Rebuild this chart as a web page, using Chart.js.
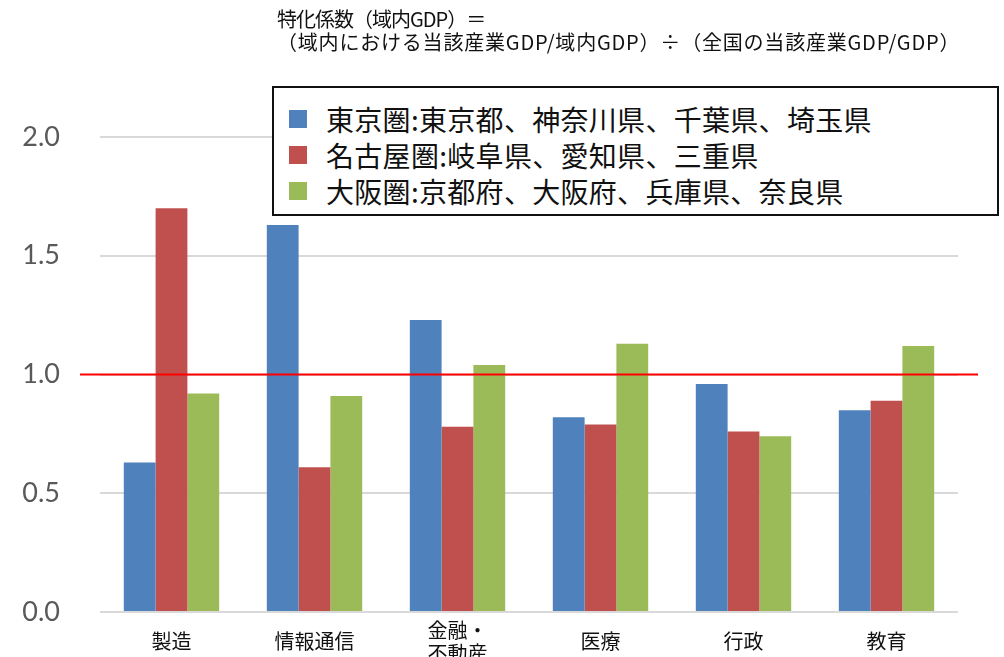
<!DOCTYPE html>
<html lang="ja">
<head>
<meta charset="utf-8">
<script src="https://cdn.jsdelivr.net/npm/chart.js@4.4.1/dist/chart.umd.min.js"></script>
<style>
  html, body { margin: 0; padding: 0; background: #fff; }
  #wrap { position: relative; width: 1004px; height: 657px; overflow: hidden; }
  #chart { position: absolute; left: 0; top: 0; }
  #heading { position: absolute; left: 277px; top: 7px; font-family: "Noto Sans CJK JP", sans-serif; font-size: 20px; line-height: 23px; color: #111; white-space: nowrap; }
  #heading .l0 { letter-spacing: -1px; }
  #heading .l1 { letter-spacing: 0.8px; }
  #legend { position: absolute; left: 272px; top: 86px; width: 723px; height: 126px; border: 2px solid #111; background: #fff; box-sizing: content-box; }
  .item { position: absolute; left: 15px; height: 36px; display: flex; align-items: center; font-family: "Noto Sans CJK JP", sans-serif; font-size: 28px; color: #111; white-space: nowrap; letter-spacing: 0.3px; }
  .sw { width: 18px; height: 18px; margin-right: 19px; }
</style>
</head>
<body>
<div id="wrap">
  <canvas id="chart" width="1004" height="657"></canvas>
  <div id="heading"></div>
  <div id="legend"></div>
</div>
<script>
const headingLines = ['特化係数（域内GDP）＝', '（域内における当該産業GDP/域内GDP）÷（全国の当該産業GDP/GDP）'];
const categories = ['製造', '情報通信', ['金融・', '不動産'], '医療', '行政', '教育'];
const seriesNames = ['東京圏:東京都、神奈川県、千葉県、埼玉県', '名古屋圏:岐阜県、愛知県、三重県', '大阪圏:京都府、大阪府、兵庫県、奈良県'];
const tokyo = [0.63, 1.63, 1.23, 0.82, 0.96, 0.85];
const nagoya = [1.70, 0.61, 0.78, 0.79, 0.76, 0.89];
const osaka = [0.92, 0.91, 1.04, 1.13, 0.74, 1.12];
const seriesColors = ['#4F81BD', '#C0504D', '#9BBB59'];
const yTicks = [0.0, 0.5, 1.0, 1.5, 2.0];
const referenceValue = 1.0;

document.getElementById('heading').innerHTML = headingLines.map((s, i) => '<div class="l' + i + '">' + s + '</div>').join('');
const legendEl = document.getElementById('legend');
seriesNames.forEach((name, i) => {
  const d = document.createElement('div');
  d.className = 'item';
  d.style.top = (13 + i * 36) + 'px';
  d.innerHTML = '<span class="sw" style="background:' + seriesColors[i] + '"></span><span>' + name + '</span>';
  legendEl.appendChild(d);
});

const refLine = {
  id: 'refLine',
  afterDatasetsDraw(chart) {
    const { ctx, chartArea, scales } = chart;
    const y = scales.y.getPixelForValue(referenceValue);
    ctx.save();
    ctx.strokeStyle = '#FF0000';
    ctx.lineWidth = 2;
    ctx.beginPath();
    ctx.moveTo(chartArea.left - 20, y);
    ctx.lineTo(chartArea.right + 20, y);
    ctx.stroke();
    ctx.restore();
  }
};

new Chart(document.getElementById('chart'), {
  type: 'bar',
  data: {
    labels: categories,
    datasets: [
      { label: seriesNames[0], data: tokyo, backgroundColor: seriesColors[0] },
      { label: seriesNames[1], data: nagoya, backgroundColor: seriesColors[1] },
      { label: seriesNames[2], data: osaka, backgroundColor: seriesColors[2] }
    ]
  },
  options: {
    responsive: false,
    animation: false,
    events: [],
    layout: { padding: { top: 137, right: 46, left: 0, bottom: 0 } },
    datasets: { bar: { categoryPercentage: 0.667, barPercentage: 1.0 } },
    plugins: { legend: { display: false }, tooltip: { enabled: false }, title: { display: false } },
    scales: {
      x: {
        grid: { display: false },
        border: { display: false },
        ticks: {
          color: '#111',
          font: { family: '"Noto Sans CJK JP", sans-serif', size: 20, lineHeight: 1.15 },
          padding: 10,
          crossAlign: 'center',
          maxRotation: 0,
          autoSkip: false
        },
        afterFit(scale) { scale.height = 45; }
      },
      y: {
        min: 0,
        max: 2.0,
        afterBuildTicks(scale) { scale.ticks = yTicks.map(v => ({ value: v })); },
        grid: { color: '#D9D9D9', lineWidth: 2, drawTicks: false },
        border: { display: false },
        ticks: {
          color: '#595959',
          font: { family: 'Lato, sans-serif', size: 27 },
          padding: 40,
          callback: v => Number(v).toFixed(1)
        },
        afterFit(scale) { scale.width = 100; scale.paddingTop = 0; scale.paddingBottom = 0; }
      }
    }
  },
  plugins: [refLine]
});
</script>
</body>
</html>
